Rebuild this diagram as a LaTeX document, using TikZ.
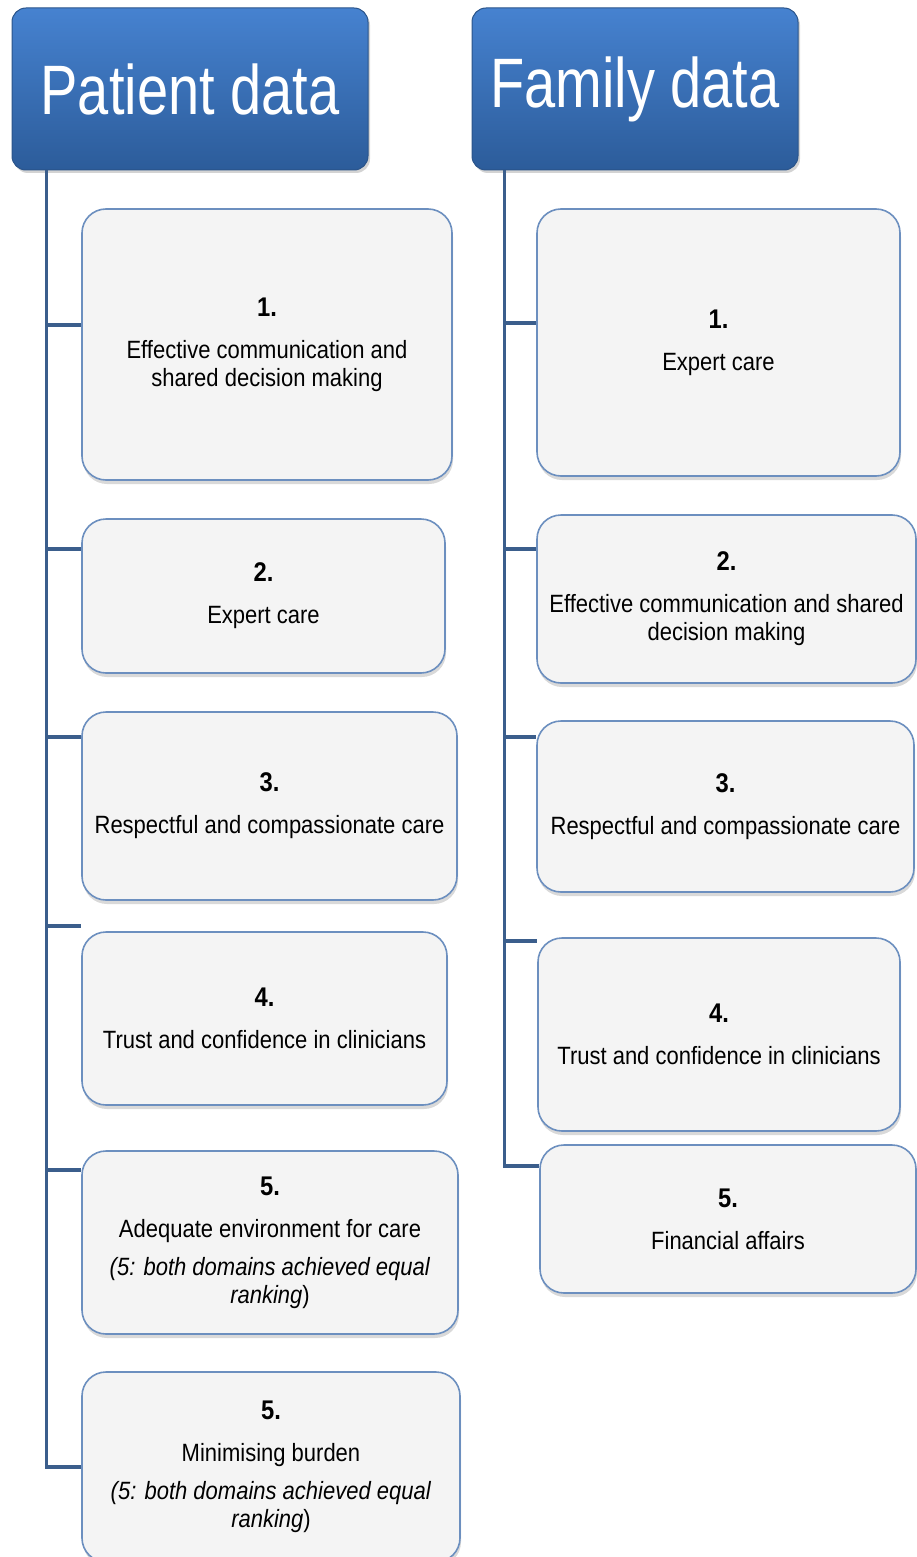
\documentclass[tikz,border=0pt]{standalone}
\usepackage{fontspec}
\setmainfont{Liberation Sans}[FakeStretch=0.88]
\newfontfamily\headfont{Liberation Sans}[FakeStretch=0.80]
\usetikzlibrary{shadows}
\definecolor{headtop}{HTML}{4682D0}
\definecolor{headbot}{HTML}{2C5C9A}
\definecolor{headline}{HTML}{2A548A}
\definecolor{boxline}{HTML}{6C8FBF}
\definecolor{boxfill}{HTML}{F4F4F4}
\definecolor{treeline}{HTML}{3B5E8C}
\tikzset{
  header/.style={rounded corners=14pt, top color=headtop, bottom color=headbot,
    draw=headline, line width=1pt, text=white, font=\headfont\fontsize{70}{70}\selectfont,
    minimum height=162pt, drop shadow={opacity=.35, shadow xshift=2pt, shadow yshift=-3pt}},
  item/.style={rounded corners=24pt, fill=boxfill, draw=boxline, line width=1.6pt,
    align=center, font=\fontsize{25}{28}\selectfont,
    drop shadow={opacity=.3, shadow xshift=1pt, shadow yshift=-4pt}},
  branch/.style={treeline, line width=3.5pt}
}
\newcommand{\num}[1]{{\fontsize{27}{28}\selectfont\bfseries #1}\\[14pt]}
\begin{document}
\begin{tikzpicture}[x=1pt,y=-1pt]
  \useasboundingbox (0,0) rectangle (916,1557);

  \node[header, minimum width=356pt] (ph) at (190,89) {Patient data};
  \node[header, minimum width=326pt] (fh) at (635,89) {Family data};

  \node[item, minimum width=370pt, minimum height=271pt] (p1) at (267,344.5)
    {\num{1.}Effective communication and\\ shared decision making};
  \node[item, minimum width=363pt, minimum height=154pt] (p2) at (263.5,596)
    {\num{2.}Expert care};
  \node[item, minimum width=375pt, minimum height=188pt] (p3) at (269.5,806)
    {\num{3.}Respectful and compassionate care};
  \node[item, minimum width=365pt, minimum height=173pt] (p4) at (264.5,1018.5)
    {\num{4.}Trust and confidence in clinicians};
  \node[item, minimum width=376pt, minimum height=183pt] (p5) at (270,1242.5)
    {\num{5.}Adequate environment for care\\[10pt]
     \textit{(5: both domains achieved equal}\\ \textit{ranking})};
  \node[item, minimum width=378pt, minimum height=190pt] (p6) at (271,1467)
    {\num{5.}Minimising burden\\[10pt]
     \textit{(5: both domains achieved equal}\\ \textit{ranking})};

  \node[item, minimum width=363pt, minimum height=267pt] (f1) at (718.5,342.5)
    {\num{1.}Expert care};
  \node[item, minimum width=379pt, minimum height=168pt] (f2) at (726.5,599)
    {\num{2.}Effective communication and shared\\ decision making};
  \node[item, minimum width=377pt, minimum height=171pt] (f3) at (725.5,806.5)
    {\num{3.}Respectful and compassionate care};
  \node[item, minimum width=362pt, minimum height=193pt] (f4) at (719,1034.5)
    {\num{4.}Trust and confidence in clinicians};
  \node[item, minimum width=376pt, minimum height=148pt] (f5) at (728,1219)
    {\num{5.}Financial affairs};

  \coordinate (ps) at ([xshift=35pt]ph.south west);
  \coordinate (fs) at ([xshift=33pt]fh.south west);
  \draw[branch] (ps) |- (p6.west);
  \draw[branch] (fs) |- (f5.west |- 0,1166);
  \foreach \n/\y in {1/325,2/549,3/737,4/926,5/1170}
    \draw[branch] (ps |- 0,\y) -- (p\n.west |- 0,\y);
  \foreach \n/\y in {1/323,2/549,3/737,4/941}
    \draw[branch] (fs |- 0,\y) -- (f\n.west |- 0,\y);

\end{tikzpicture}
\end{document}
